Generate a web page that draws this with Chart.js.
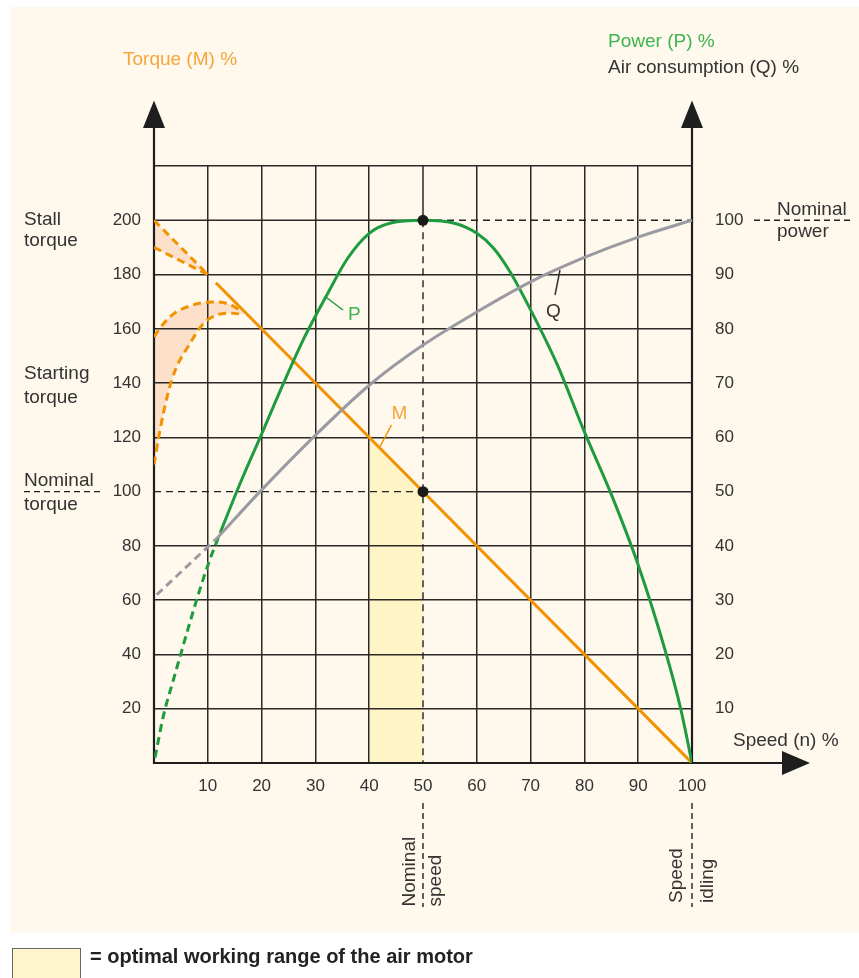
<!DOCTYPE html>
<html><head><meta charset="utf-8">
<script src="https://cdn.jsdelivr.net/npm/chart.js@4/dist/chart.umd.min.js"></script>
<style>
html,body{margin:0;padding:0;background:#fff;width:859px;height:978px;overflow:hidden;position:relative}
#bg{position:absolute;left:10px;top:7px;width:849px;height:926px;background:#fef8ed}
#c{position:absolute;left:0;top:0}
#legend{position:absolute;left:12px;top:948px;width:600px;height:30px;font:bold 20px 'Liberation Sans',Arial,sans-serif;color:#222}
#legend .box{position:absolute;left:0;top:0;width:69px;height:34px;border:1px solid #666;background:#fff5cc;box-sizing:border-box}
#legend .txt{position:absolute;left:78px;top:-1px;line-height:19px;white-space:nowrap}
</style></head>
<body>
<div id="bg"></div>
<canvas id="c" width="859" height="978"></canvas>
<div id="legend"><div class="box"></div><div class="txt">= optimal working range of the air motor</div></div>
<script>
// ---- data ----
// torque (left axis, %)
const stallX = [0, 10];
const stallUpper = [200, 180];
const stallLower = [190, 180];
const startX = [0, 1, 2.5, 4, 6.5, 9, 11.5, 14, 16.5];
const startUpper = [157, 160, 163.5, 166, 168.3, 169.6, 169.9, 169, 166.3];
const startLower = [110, 121.5, 135.5, 145, 154, 161.5, 165, 165.8, 165.3];
const torqueX = [11.5, 100];
const torque = [177, 0];
const optimalX = [40, 50];
const optimalTorque = [120, 100];
// power (right axis, %)
const powerDashX = [0.2, 1.7, 3.6, 5.1, 6.7, 8.5, 10.4, 12.3];
const powerDash = [1, 8.5, 15.3, 20.5, 26, 31.9, 37.5, 42.4];
const powerX = [12.3, 16, 20, 24, 28, 32, 36, 40, 44, 50, 56, 60, 63, 66, 70, 75, 80, 85, 90, 95, 97.9, 100];
const power = [42.4, 51.5, 60.6, 69.8, 78.5, 86, 93, 97.6, 99.5, 100, 99.4, 97.6, 95, 90.8, 83.5, 73.3, 61, 49.5, 36.5, 20.8, 10, 0];
// air consumption (right axis, %)
const airDashX = [0.5, 11.8];
const airDash = [31, 41.5];
const airX = [11.8, 19.7, 29.6, 40, 50, 60, 69.9, 79.9, 90, 100];
const air = [41.5, 50, 60, 69.6, 77, 83.1, 88.6, 93.1, 96.9, 100];
// axes
const speedRange = [0, 100];
const torqueRange = [0, 220];
const powerRange = [0, 110];

const FF = "'Liberation Sans', Arial, Helvetica, sans-serif";
const ORANGE = '#f39200', GREEN = '#1f9b3f', GREY = '#9a9aa2';
const ORANGE_T = '#f6a53c', GREEN_T = '#3fb54e', DARK = '#333333';
const GRID = '#2b2826';
const pts = (xs, ys) => xs.map((x, i) => ({x, y: ys[i]}));

const hiddenX = [0, 50, 100], hiddenY = [0, 100, 200];

const annot = {
  id: 'annot',
  beforeDatasetsDraw(chart) {
    const ctx = chart.ctx, xs = chart.scales.x, ys = chart.scales.y, y2 = chart.scales.y2;
    const X = v => xs.getPixelForValue(v), Y = v => ys.getPixelForValue(v);
    ctx.save();
    ctx.strokeStyle = GRID; ctx.lineWidth = 1.5;
    const line = (a, b, c, d) => { ctx.beginPath(); ctx.moveTo(a, b); ctx.lineTo(c, d); ctx.stroke(); };
    line(X(50), Y(100), X(100), Y(100));
    line(X(0), Y(200), X(50), Y(200));
    line(X(50), Y(220), X(50), Y(200));
    ctx.strokeStyle = '#222'; ctx.lineWidth = 1.4; ctx.setLineDash([7, 5]);
    line(X(0), Y(100), X(50), Y(100));
    line(X(50), Y(200), X(100), Y(200));
    line(X(50), Y(200), X(50), Y(0));
    ctx.setLineDash([6, 4]);
    line(24, Y(100), 102, Y(100));
    line(754, y2.getPixelForValue(100), 853, y2.getPixelForValue(100));
    line(X(50), 803, X(50), 907);
    line(X(100), 803, X(100), 907);
    ctx.setLineDash([]);
    ctx.strokeStyle = '#1e1e1e'; ctx.fillStyle = '#1e1e1e'; ctx.lineWidth = 2.2;
    const top = 128;
    line(X(0), Y(0) + 1, X(0), top);
    line(X(100), Y(0) + 1, X(100), top);
    line(X(0) - 1, Y(0), 783, Y(0));
    const tri = (a, b, c) => { ctx.beginPath(); ctx.moveTo(a[0], a[1]); ctx.lineTo(b[0], b[1]); ctx.lineTo(c[0], c[1]); ctx.closePath(); ctx.fill(); };
    tri([X(0) - 11, top], [X(0) + 11, top], [X(0), 100.5]);
    tri([X(100) - 11, top], [X(100) + 11, top], [X(100), 100.5]);
    tri([782, Y(0) - 12], [782, Y(0) + 12], [810, Y(0)]);
    ctx.restore();
  },
  afterDraw(chart) {
    const ctx = chart.ctx, xs = chart.scales.x, ys = chart.scales.y;
    const X = v => xs.getPixelForValue(v), Y = v => ys.getPixelForValue(v);
    ctx.save();
    ctx.fillStyle = '#1a1a1a';
    [[50, 200], [50, 100]].forEach(p => { ctx.beginPath(); ctx.arc(X(p[0]), Y(p[1]), 5.5, 0, Math.PI * 2); ctx.fill(); });
    ctx.lineWidth = 1.5;
    const line = (c, a, b, d, e) => { ctx.strokeStyle = c; ctx.beginPath(); ctx.moveTo(a, b); ctx.lineTo(d, e); ctx.stroke(); };
    line(GREEN, 325, 296.5, 343, 310);
    line(ORANGE, 380, 446.5, 391.5, 425);
    line('#333', 560, 270, 555, 295);
    ctx.font = '19px ' + FF; ctx.textBaseline = 'alphabetic'; ctx.textAlign = 'left';
    const t = (s, x, y, c) => { ctx.fillStyle = c; ctx.fillText(s, x, y); };
    t('Torque (M) %', 123, 65, ORANGE_T);
    t('Power (P) %', 608, 47, GREEN_T);
    t('Air consumption (Q) %', 608, 73, DARK);
    t('Stall', 24, 225, DARK); t('torque', 24, 246, DARK);
    t('Starting', 24, 378.5, DARK); t('torque', 24, 402.5, DARK);
    t('Nominal', 24, 485.5, DARK); t('torque', 24, 509.5, DARK);
    t('Nominal', 777, 215, DARK); t('power', 777, 237, DARK);
    t('Speed (n) %', 733, 746, DARK);
    t('P', 348, 320, GREEN_T);
    t('M', 391.5, 419, ORANGE_T);
    t('Q', 546, 316.5, DARK);
    const r = (s, x, y) => { ctx.save(); ctx.translate(x, y); ctx.rotate(-Math.PI / 2); ctx.fillStyle = DARK; ctx.fillText(s, 0, 0); ctx.restore(); };
    r('Nominal', 415, 906.5); r('speed', 440.5, 906.5);
    r('Speed', 682, 903); r('idling', 713, 903);
    ctx.restore();
  }
};

const lineDs = (data, color, axis, opts = {}) => Object.assign({
  data, borderColor: color, borderWidth: 3, pointRadius: 0, fill: false,
  yAxisID: axis, cubicInterpolationMode: 'monotone', borderCapStyle: 'butt'
}, opts);

const gridCfg = hidden => ({
  color: c => (c.tick && hidden.includes(c.tick.value)) ? 'rgba(0,0,0,0)' : GRID,
  lineWidth: 1.5, drawTicks: false
});

Chart.defaults.font.family = FF;
new Chart(document.getElementById('c'), {
  type: 'line',
  data: {
    datasets: [
      lineDs(pts(optimalX, optimalTorque), 'rgba(0,0,0,0)', 'y', {borderWidth: 0, fill: 'origin', backgroundColor: '#fff4c6'}),
      lineDs(pts(stallX, stallUpper), ORANGE, 'y', {borderDash: [8, 5], fill: '+1', backgroundColor: '#fde0c9'}),
      lineDs(pts(stallX, stallLower), ORANGE, 'y', {borderDash: [8, 5]}),
      lineDs(pts(startX, startUpper), ORANGE, 'y', {borderDash: [8, 5], fill: '+1', backgroundColor: '#fde0c9'}),
      lineDs(pts(startX, startLower), ORANGE, 'y', {borderDash: [8, 5]}),
      lineDs(pts(airDashX, airDash), GREY, 'y2', {borderDash: [8, 5]}),
      lineDs(pts(airX, air), GREY, 'y2'),
      lineDs(pts(powerDashX, powerDash), GREEN, 'y2', {borderDash: [8, 5]}),
      lineDs(pts(powerX, power), GREEN, 'y2'),
      lineDs(pts(torqueX, torque), ORANGE, 'y')
    ]
  },
  options: {
    responsive: false, animation: false, devicePixelRatio: 1,
    layout: {padding: {top: 166, left: 0, right: 0, bottom: 0}},
    plugins: {legend: {display: false}, tooltip: {enabled: false}, title: {display: false}, filler: {drawTime: 'beforeDraw'}},
    scales: {
      x: {
        type: 'linear', position: 'bottom', min: speedRange[0], max: speedRange[1],
        ticks: {stepSize: 10, padding: 13, color: DARK, font: {size: 17}, maxRotation: 0, autoSkip: false,
          callback: v => v === 0 ? '' : v},
        grid: gridCfg(hiddenX), border: {display: false},
        afterFit: s => { s.height = 215; }
      },
      y: {
        type: 'linear', position: 'left', min: torqueRange[0], max: torqueRange[1],
        ticks: {stepSize: 20, padding: 13, color: DARK, font: {size: 17}, autoSkip: false,
          callback: v => (v === 0 || v === 220) ? '' : v},
        grid: gridCfg(hiddenY), border: {display: false},
        afterFit: s => { s.width = 154; }
      },
      y2: {
        type: 'linear', position: 'right', min: powerRange[0], max: powerRange[1],
        ticks: {stepSize: 10, padding: 23, color: DARK, font: {size: 17}, autoSkip: false,
          callback: v => (v === 0 || v === 110) ? '' : v},
        grid: {display: false, drawTicks: false}, border: {display: false},
        afterFit: s => { s.width = 167; }
      }
    }
  },
  plugins: [annot]
});
</script>
</body></html>
